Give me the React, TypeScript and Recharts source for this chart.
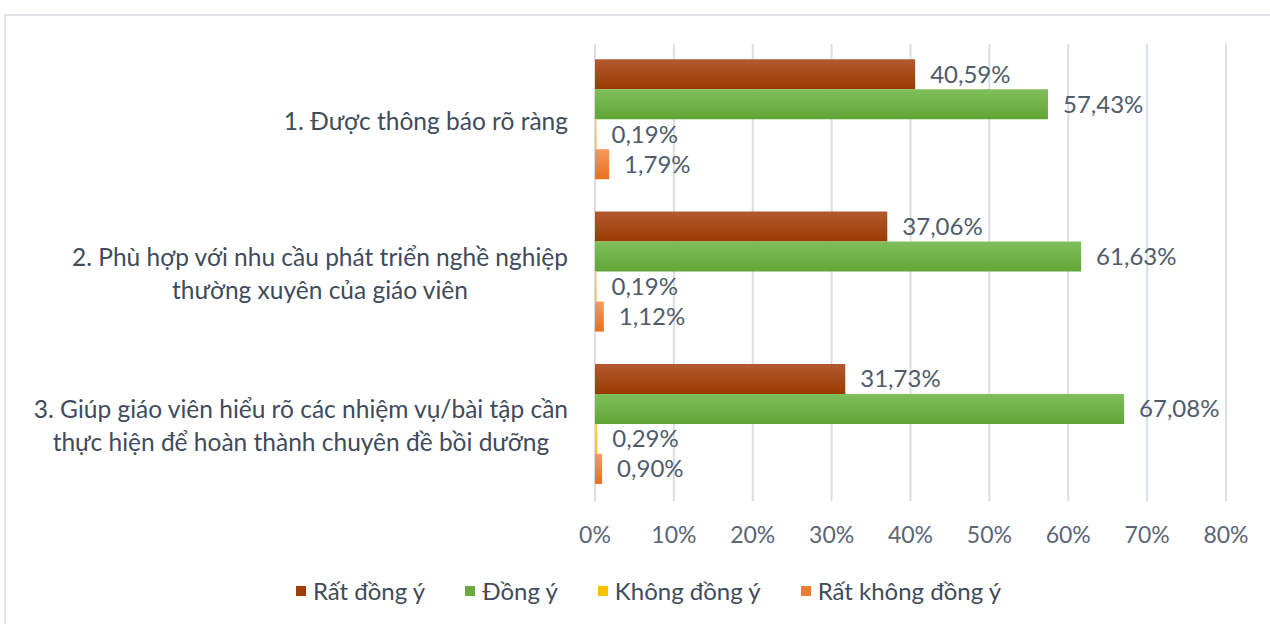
import { BarChart, Bar, XAxis, YAxis, CartesianGrid, Legend, LabelList } from "recharts";

const categories = [
  "1. Được thông báo rõ ràng",
  "2. Phù hợp với nhu cầu phát triển nghề nghiệp\nthường xuyên của giáo viên",
  "3. Giúp giáo viên hiểu rõ các nhiệm vụ/bài tập cần\nthực hiện để hoàn thành chuyên đề bồi dưỡng",
];
const ratDongY = [40.59, 37.06, 31.73];
const dongY = [57.43, 61.63, 67.08];
const khongDongY = [0.19, 0.19, 0.29];
const ratKhongDongY = [1.79, 1.12, 0.9];
const xTicks = [0, 10, 20, 30, 40, 50, 60, 70, 80];

const series = [
  { key: "a", name: "Rất đồng ý", top: "#b25a30", bottom: "#993a00", swatch: "#9c3f08" },
  { key: "b", name: "Đồng ý", top: "#7fbf5c", bottom: "#62a535", swatch: "#6aaa3e" },
  { key: "c", name: "Không đồng ý", top: "#ffd54a", bottom: "#ffc000", swatch: "#ffc000" },
  { key: "d", name: "Rất không đồng ý", top: "#f79a5c", bottom: "#e8701f", swatch: "#ed7d31" },
];

const data = categories.map((name, i) => ({
  name,
  a: ratDongY[i],
  b: dongY[i],
  c: khongDongY[i],
  d: ratKhongDongY[i],
}));

const FONT = "Lato, 'Open Sans', sans-serif";
const pct = (v: any) => String(v.toFixed(2)).replace(".", ",") + "%";

const CategoryTick = (props: any) => {
  const { y, payload } = props;
  const w = 580;
  return (
    <foreignObject x={568 - w} y={y - 45} width={w} height={90}>
      <div
        style={{
          width: w,
          height: 90,
          display: "flex",
          justifyContent: "flex-end",
          alignItems: "center",
        }}
      >
        <div
          style={{
            textAlign: "center",
            whiteSpace: "pre-line",
            fontFamily: FONT,
            fontSize: 24.5,
            lineHeight: "33px",
            color: "#404b5b",
          }}
        >
          {payload.value}
        </div>
      </div>
    </foreignObject>
  );
};

const LegendContent = () => (
  <div
    style={{
      display: "flex",
      justifyContent: "center",
      gap: 40,
      paddingLeft: 66,
      fontFamily: FONT,
      fontSize: 24,
      color: "#404b5b",
    }}
  >
    {series.map((s) => (
      <div key={s.key} style={{ display: "flex", alignItems: "center" }}>
        <span style={{ width: 10, height: 10, background: s.swatch, display: "inline-block", marginRight: 7 }} />
        {s.name}
      </div>
    ))}
  </div>
);

export default function App() {
  return (
    <div style={{ position: "absolute", left: 0, top: 0, width: 1270, height: 624, background: "#fff", overflow: "hidden" }}>
      <div
        style={{
          position: "absolute",
          left: 4,
          top: 14,
          width: 1280,
          height: 620,
          borderTop: "2px solid #dfe4ea",
          borderLeft: "2px solid #dfe4ea",
        }}
      />
      <BarChart
        width={1270}
        height={624}
        data={data}
        layout="vertical"
        margin={{ top: 44, right: 44, bottom: 53, left: 5 }}
        barCategoryGap="10%"
        barGap={0}
      >
        <defs>
          {series.map((s) => (
            <linearGradient key={s.key} id={"g" + s.key} x1="0" y1="0" x2="0" y2="1">
              <stop offset="0%" stopColor={s.top} />
              <stop offset="100%" stopColor={s.bottom} />
            </linearGradient>
          ))}
        </defs>
        <CartesianGrid horizontal={false} stroke="#d9dee6" strokeWidth={2} />
        <XAxis
          type="number"
          domain={[0, 80]}
          ticks={xTicks}
          tickFormatter={(v) => `${v}%`}
          axisLine={false}
          tickLine={false}
          tickMargin={20}
          height={40}
          tick={{ fontFamily: FONT, fontSize: 23, fill: "#5b6578" }}
          interval={0}
        />
        <YAxis
          type="category"
          dataKey="name"
          width={590}
          axisLine={false}
          tickLine={false}
          tick={<CategoryTick />}
          interval={0}
        />
        <Legend content={<LegendContent />} height={30} wrapperStyle={{ bottom: 18 }} />
        {series.map((s) => (
          <Bar key={s.key} dataKey={s.key} name={s.name} fill={`url(#g${s.key})`} isAnimationActive={false}>
            <LabelList
              dataKey={s.key}
              position="right"
              offset={15}
              formatter={pct}
              style={{ fontFamily: FONT, fontSize: 24, fill: "#4f5b6b" }}
            />
          </Bar>
        ))}
      </BarChart>
    </div>
  );
}
